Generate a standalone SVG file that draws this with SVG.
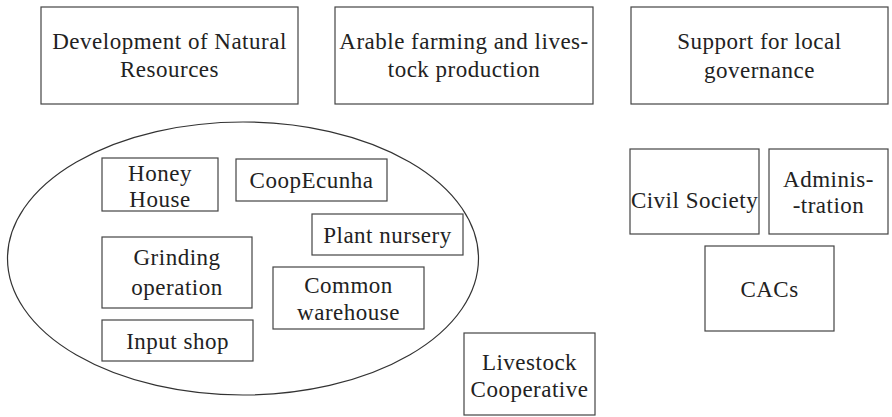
<svg xmlns="http://www.w3.org/2000/svg" width="892" height="417" viewBox="0 0 892 417">
<style>
rect{fill:#fff;stroke:#444;stroke-width:1.2}
ellipse{fill:none;stroke:#333;stroke-width:1.2}
text{font-family:'Liberation Serif','Times New Roman',serif;font-size:23px;fill:#222;text-anchor:middle;letter-spacing:0.5px}
</style>
<rect x="0" y="0" width="892" height="417" style="stroke:none"/>
<g id="container">
<ellipse cx="243" cy="258.5" rx="235.5" ry="136.5"/>
</g>
<g id="dev-natural-resources"><rect x="41" y="7" width="257" height="97"/><text x="169.5" y="49">Development of Natural</text><text x="169.5" y="77">Resources</text></g>
<g id="arable-farming"><rect x="335" y="7" width="258" height="97"/><text x="464" y="49">Arable farming and lives-</text><text x="464" y="77">tock production</text></g>
<g id="local-governance"><rect x="631" y="7" width="257" height="97"/><text x="759.5" y="49">Support for local</text><text x="759.5" y="78">governance</text></g>
<g id="honey-house"><rect x="102" y="158" width="116" height="53"/><text x="160" y="181">Honey</text><text x="160" y="207">House</text></g>
<g id="coopecunha"><rect x="236" y="159" width="151" height="42"/><text x="311.5" y="188">CoopEcunha</text></g>
<g id="plant-nursery"><rect x="312" y="214" width="151" height="41"/><text x="387.5" y="243">Plant nursery</text></g>
<g id="grinding-operation"><rect x="102" y="237" width="150" height="71"/><text x="177" y="265">Grinding</text><text x="177" y="295">operation</text></g>
<g id="common-warehouse"><rect x="273" y="267" width="151" height="62"/><text x="348.5" y="293">Common</text><text x="348.5" y="320">warehouse</text></g>
<g id="input-shop"><rect x="102" y="320" width="151" height="41"/><text x="177.5" y="349">Input shop</text></g>
<g id="livestock-cooperative"><rect x="464" y="333" width="131" height="82"/><text x="529.5" y="370">Livestock</text><text x="529.5" y="397">Cooperative</text></g>
<g id="civil-society"><rect x="630" y="149" width="129" height="85"/><text x="694.5" y="208">Civil Society</text></g>
<g id="administration"><rect x="769" y="149" width="119" height="85"/><text x="828.5" y="187">Adminis-</text><text x="828.5" y="213">-tration</text></g>
<g id="cacs"><rect x="705" y="246" width="129" height="85"/><text x="769.5" y="297">CACs</text></g>
<g id="connectors"></g>
</svg>
